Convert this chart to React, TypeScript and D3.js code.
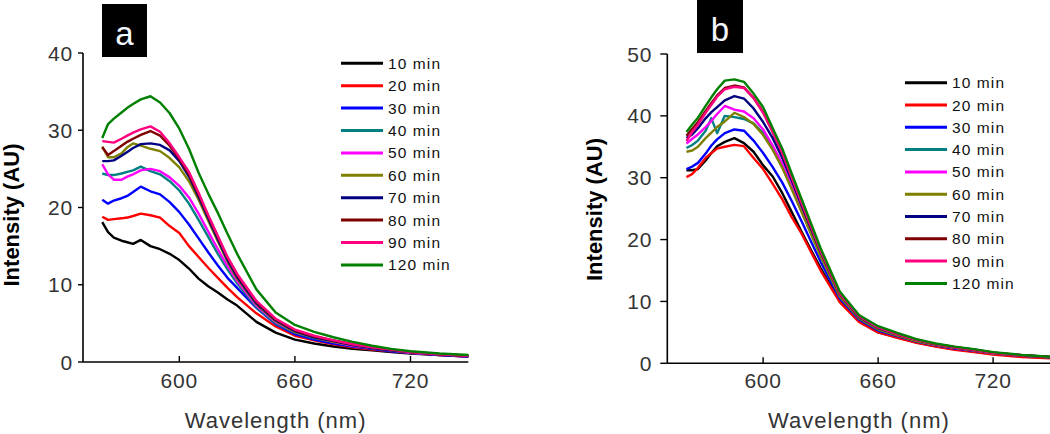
import React from "react";
import * as d3 from "d3";

// ---------- data ----------
const WAVELENGTH = [560, 563, 566, 570, 573, 576, 580, 585, 590, 595, 600, 605, 610, 615, 620, 625, 630, 640, 650, 660, 670, 680, 690, 700, 710, 720, 735, 750];

const LABELS = ["10 min", "20 min", "30 min", "40 min", "50 min", "60 min", "70 min", "80 min", "90 min", "120 min"];
const COLORS = ["#000000", "#ff0000", "#0000ff", "#008080", "#ff00ff", "#808000", "#000080", "#800000", "#ff0080", "#008000"];

// panel a
const A_10 = [18.1, 16.8, 16.1, 15.7, 15.5, 15.3, 15.8, 15.0, 14.6, 14.0, 13.2, 12.1, 10.8, 9.8, 9.0, 8.1, 7.3, 5.2, 3.8, 2.9, 2.4, 2.0, 1.7, 1.5, 1.3, 1.1, 0.9, 0.7];
const A_20 = [18.8, 18.4, 18.5, 18.6, 18.7, 18.9, 19.2, 19.0, 18.7, 17.6, 16.7, 15.0, 13.6, 12.2, 10.9, 9.6, 8.4, 6.3, 4.6, 3.4, 2.8, 2.3, 1.9, 1.6, 1.4, 1.2, 0.9, 0.7];
const A_30 = [21.0, 20.5, 20.9, 21.2, 21.5, 22.0, 22.7, 22.1, 21.7, 20.7, 19.4, 17.8, 16.0, 14.2, 12.5, 10.9, 9.6, 7.0, 4.9, 3.6, 2.9, 2.4, 2.0, 1.7, 1.4, 1.2, 0.9, 0.7];
const A_40 = [24.4, 24.2, 24.2, 24.4, 24.6, 24.8, 25.3, 24.7, 24.3, 23.4, 22.2, 20.5, 18.4, 16.2, 14.0, 12.0, 10.2, 7.1, 5.0, 3.8, 3.1, 2.6, 2.1, 1.8, 1.5, 1.2, 1.0, 0.8];
const A_50 = [25.6, 24.3, 23.6, 23.6, 24.0, 24.3, 24.8, 25.0, 24.7, 23.9, 22.8, 21.3, 19.2, 16.9, 14.6, 12.4, 10.5, 7.3, 5.2, 3.9, 3.2, 2.6, 2.1, 1.8, 1.5, 1.2, 1.0, 0.8];
const A_60 = [27.9, 26.5, 26.5, 27.0, 27.8, 28.3, 28.0, 27.6, 27.3, 26.4, 25.2, 23.4, 21.0, 18.3, 15.6, 13.0, 10.8, 7.5, 5.3, 3.9, 3.2, 2.6, 2.2, 1.8, 1.5, 1.3, 1.0, 0.8];
const A_70 = [26.0, 26.0, 26.1, 26.7, 27.2, 27.7, 28.2, 28.3, 28.1, 27.4, 26.0, 24.0, 21.4, 18.6, 15.9, 13.2, 11.0, 7.6, 5.4, 4.0, 3.2, 2.7, 2.2, 1.8, 1.5, 1.3, 1.0, 0.8];
const A_80 = [27.8, 26.8, 27.3, 28.0, 28.5, 28.9, 29.4, 29.9, 29.3, 28.0, 26.3, 24.3, 21.7, 18.9, 16.2, 13.5, 11.3, 7.8, 5.5, 4.1, 3.3, 2.8, 2.3, 1.9, 1.6, 1.3, 1.0, 0.8];
const A_90 = [28.6, 28.5, 28.4, 28.9, 29.3, 29.7, 30.1, 30.5, 29.8, 28.3, 26.5, 24.6, 21.9, 19.0, 16.3, 13.6, 11.4, 7.9, 5.6, 4.2, 3.4, 2.8, 2.3, 1.9, 1.6, 1.3, 1.0, 0.8];
const A_120 = [29.0, 30.8, 31.5, 32.3, 32.9, 33.4, 34.0, 34.4, 33.6, 32.2, 30.2, 27.6, 24.5, 21.8, 19.3, 16.6, 14.0, 9.4, 6.4, 4.8, 3.9, 3.2, 2.6, 2.1, 1.7, 1.4, 1.1, 0.9];

// panel b
const B_10 = [31.2, 31.2, 31.4, 32.8, 34.0, 35.1, 35.8, 36.4, 35.6, 34.2, 32.0, 30.2, 27.5, 24.4, 21.3, 18.3, 15.4, 10.0, 6.8, 5.0, 4.2, 3.4, 2.8, 2.3, 1.9, 1.5, 1.1, 0.9];
const B_20 = [30.1, 30.6, 31.6, 33.2, 34.0, 34.7, 35.0, 35.3, 35.1, 33.2, 31.4, 29.0, 26.5, 23.6, 21.0, 18.0, 15.0, 9.9, 6.7, 5.0, 4.1, 3.3, 2.7, 2.2, 1.8, 1.4, 1.0, 0.8];
const B_30 = [31.4, 31.8, 32.4, 33.9, 35.2, 36.2, 37.2, 37.8, 37.6, 36.0, 34.0, 31.7, 29.2, 26.2, 23.0, 19.7, 16.4, 10.5, 7.1, 5.3, 4.4, 3.5, 2.9, 2.4, 2.0, 1.6, 1.2, 0.95];
const B_40 = [34.8, 35.3, 36.0, 37.6, 39.6, 37.2, 40.0, 39.8, 39.5, 38.8, 37.2, 34.8, 31.8, 28.3, 24.7, 21.0, 17.4, 10.9, 7.3, 5.5, 4.5, 3.6, 3.0, 2.5, 2.1, 1.6, 1.25, 0.95];
const B_50 = [35.5, 36.3, 37.0, 38.2, 39.2, 40.3, 41.6, 41.0, 40.7, 39.6, 37.8, 35.2, 32.2, 28.7, 25.0, 21.3, 17.6, 11.0, 7.4, 5.6, 4.6, 3.7, 3.0, 2.5, 2.1, 1.6, 1.25, 1.0];
const B_60 = [34.2, 34.4, 35.0, 36.4, 37.3, 38.2, 39.1, 40.5, 39.8, 38.7, 36.9, 34.5, 31.6, 28.1, 24.5, 20.9, 17.3, 10.8, 7.3, 5.5, 4.5, 3.6, 3.0, 2.5, 2.1, 1.6, 1.25, 0.95];
const B_70 = [36.4, 37.0, 38.0, 39.6, 40.6, 41.4, 42.5, 43.2, 42.8, 41.2, 39.0, 36.4, 33.2, 29.5, 25.6, 21.8, 18.0, 11.2, 7.5, 5.7, 4.7, 3.8, 3.1, 2.6, 2.2, 1.7, 1.3, 1.0];
const B_80 = [36.8, 37.9, 39.0, 40.8, 42.1, 43.3, 44.5, 44.9, 44.6, 42.9, 40.6, 37.4, 34.0, 30.0, 26.0, 22.1, 18.2, 11.3, 7.6, 5.8, 4.7, 3.8, 3.1, 2.6, 2.2, 1.7, 1.3, 1.0];
const B_90 = [35.9, 37.4, 38.6, 40.5, 41.8, 43.1, 44.3, 44.7, 44.5, 42.9, 40.5, 37.4, 34.0, 30.0, 26.0, 22.1, 18.2, 11.3, 7.6, 5.8, 4.7, 3.8, 3.1, 2.6, 2.2, 1.7, 1.3, 1.0];
const B_120 = [37.4, 38.6, 39.7, 41.6, 43.0, 44.3, 45.7, 45.9, 45.5, 43.6, 41.4, 38.0, 34.7, 30.6, 26.6, 22.6, 18.6, 11.6, 7.8, 6.0, 4.9, 3.9, 3.2, 2.7, 2.3, 1.8, 1.35, 1.05];

const SERIES_A = [A_10, A_20, A_30, A_40, A_50, A_60, A_70, A_80, A_90, A_120];
const SERIES_B = [B_10, B_20, B_30, B_40, B_50, B_60, B_70, B_80, B_90, B_120];

const X_DOMAIN = [550, 750];
const X_TICKS = [600, 660, 720];
const Y_TICKS_A = [0, 10, 20, 30, 40];
const Y_TICKS_B = [0, 10, 20, 30, 40, 50];

const FONT = "'Liberation Sans', Arial, sans-serif";

type PanelProps = {
  series: number[][];
  x0: number; x1: number;
  yTop: number; yBottom: number; yMax: number;
  yTicks: number[];
  yTickLen: number;
  yLabelGap: number;
  letter: string;
  box: { x: number; y: number; w: number; h: number };
  legend: { lineX0: number; lineX1: number; textX: number; y0: number; dy: number };
  yTitle: { x: number; y: number };
};

function Panel(p: PanelProps) {
  const x = d3.scaleLinear().domain(X_DOMAIN).range([p.x0, p.x1]);
  const y = d3.scaleLinear().domain([0, p.yMax]).range([p.yBottom, p.yTop]);
  const line = d3
    .line<number>()
    .x((_, i) => x(WAVELENGTH[i]))
    .y((d) => y(d))
    .curve(d3.curveLinear);

  return (
    <g>
      {p.series.map((s, i) => (
        <path key={i} d={line(s) || ""} fill="none" stroke={COLORS[i]} strokeWidth={2.4} strokeLinejoin="round" />
      ))}
      <line x1={p.x0} x2={p.x0} y1={p.yTop} y2={p.yBottom} stroke="#000" strokeWidth={1.6} />
      <line x1={p.x0} x2={p.x1} y1={p.yBottom} y2={p.yBottom} stroke="#000" strokeWidth={1.6} />
      {p.yTicks.map((t) => (
        <g key={"y" + t}>
          <line x1={p.x0 - p.yTickLen} x2={p.x0} y1={y(t)} y2={y(t)} stroke="#000" strokeWidth={1.4} />
          <text x={p.x0 - p.yTickLen - p.yLabelGap} y={y(t) + 7.5} textAnchor="end" fontFamily={FONT} fontSize={21} letterSpacing={0.8} fill="#333">
            {t}
          </text>
        </g>
      ))}
      {X_TICKS.map((t) => (
        <g key={"x" + t}>
          <line x1={x(t)} x2={x(t)} y1={p.yBottom} y2={p.yBottom - 6} stroke="#000" strokeWidth={1.4} />
          <text x={x(t)} y={388} textAnchor="middle" fontFamily={FONT} fontSize={21} letterSpacing={0.8} fill="#333">
            {t}
          </text>
        </g>
      ))}
      <text x={(p.x0 + p.x1) / 2} y={428} textAnchor="middle" fontFamily={FONT} fontSize={22} letterSpacing={1} fill="#333">
        Wavelength (nm)
      </text>
      <text
        transform={`translate(${p.yTitle.x},${p.yTitle.y}) rotate(-90)`}
        textAnchor="middle"
        fontFamily={FONT}
        fontSize={22}
        fontWeight="bold"
        fill="#000"
      >
        Intensity (AU)
      </text>
      <rect x={p.box.x} y={p.box.y} width={p.box.w} height={p.box.h} fill="#000" />
      <text x={p.box.x + p.box.w / 2} y={p.box.y + p.box.h - 12} textAnchor="middle" fontFamily={FONT} fontSize={33} fill="#f4f8ff">
        {p.letter}
      </text>
      {LABELS.map((l, i) => {
        const ly = p.legend.y0 + i * p.legend.dy;
        return (
          <g key={l}>
            <line x1={p.legend.lineX0} x2={p.legend.lineX1} y1={ly} y2={ly} stroke={COLORS[i]} strokeWidth={3} />
            <text x={p.legend.textX} y={ly + 5.5} fontFamily={FONT} fontSize={15.5} letterSpacing={1.1} fill="#111">
              {l}
            </text>
          </g>
        );
      })}
    </g>
  );
}

export default function App() {
  return (
    <svg
      width={1050}
      height={434}
      viewBox="0 0 1050 434"
      style={{ position: "absolute", left: 0, top: 0, background: "#fff" }}
    >
      <rect x={0} y={0} width={1050} height={434} fill="#fff" />
      <Panel
        series={SERIES_A}
        x0={83}
        x1={468.3}
        yTop={53}
        yBottom={362}
        yMax={40}
        yTicks={Y_TICKS_A}
        yTickLen={5}
        yLabelGap={5}
        letter="a"
        box={{ x: 102, y: 4, w: 45, h: 53 }}
        legend={{ lineX0: 341, lineX1: 383, textX: 388, y0: 63.3, dy: 22.4 }}
        yTitle={{ x: 19, y: 215 }}
      />
      <Panel
        series={SERIES_B}
        x0={667.3}
        x1={1050.6}
        yTop={54}
        yBottom={363.3}
        yMax={50}
        yTicks={Y_TICKS_B}
        yTickLen={7}
        yLabelGap={8}
        letter="b"
        box={{ x: 697, y: 0, w: 46, h: 53 }}
        legend={{ lineX0: 905, lineX1: 947, textX: 952, y0: 82.7, dy: 22.3 }}
        yTitle={{ x: 602, y: 209.5 }}
      />
    </svg>
  );
}
